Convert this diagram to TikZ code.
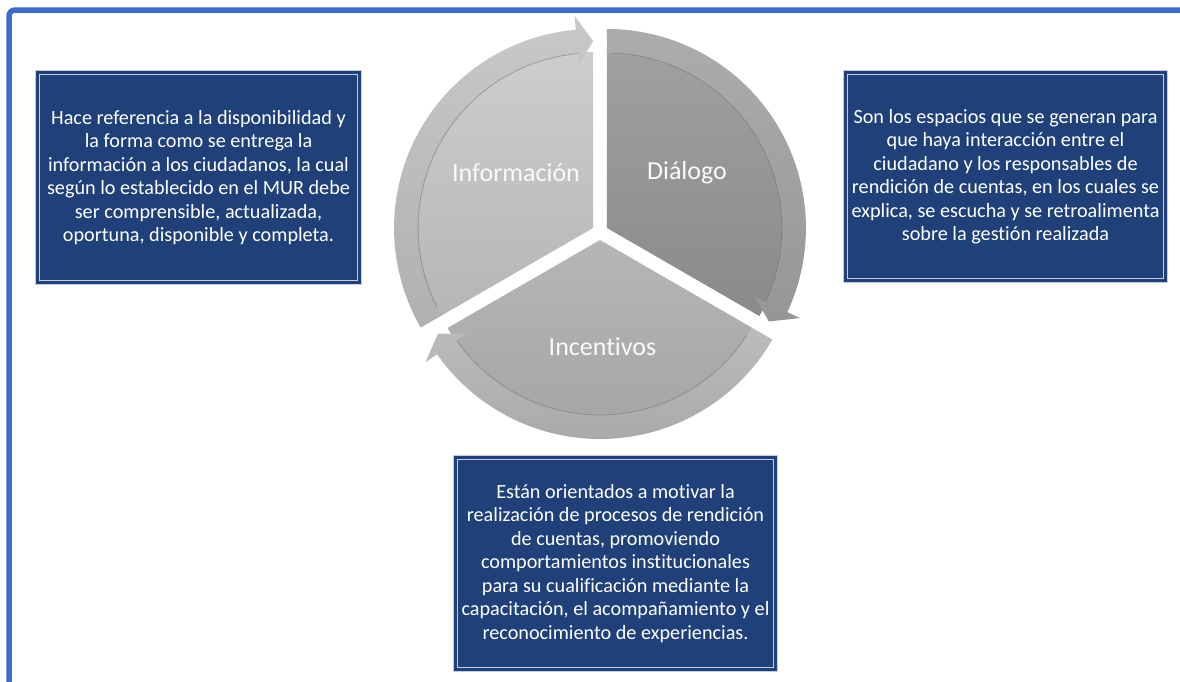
\documentclass[tikz,border=0pt]{standalone}
\usepackage{fontspec}
\setmainfont{Carlito}[Ligatures=NoCommon]
\definecolor{frameblue}{RGB}{58,108,208}
\definecolor{navy}{RGB}{32,64,122}
\definecolor{boxline}{RGB}{196,205,222}
\definecolor{shadowline}{RGB}{110,110,110}
\begin{document}
\begin{tikzpicture}[x=1pt,y=1pt,
  descbox/.style={fill=navy, draw=boxline, line width=1pt, double=navy, double distance=3pt,
    rectangle, inner sep=0pt, text=white, align=center,
    font=\fontsize{20.2}{23.5}\selectfont},
  seglabel/.style={text=white!96!gray, font=\fontsize{26}{30}\selectfont},
  bandedge/.style={draw=shadowline, line width=0.8pt, opacity=0.5},
]
\useasboundingbox (0,0) rectangle (1180,-681);
\fill[white] (0,0) rectangle (1180,-681);
\begin{scope}
  \clip (0,0) rectangle (1180,-681);
  \draw[frameblue, line width=5.5pt, rounded corners=6pt] (9,-720) -- (9,-10) -- (1220,-10);
\end{scope}

% ---- Informacion segment ----
\begin{scope}[shift={(593.07,-228)}]
  \path[shade, top color={rgb,255:red,205;green,205;blue,205}, bottom color={rgb,255:red,182;green,182;blue,182}]
    (0,0) -- (210:176) arc[start angle=210, end angle=90, radius=176] -- cycle;
  \path[shade, top color={rgb,255:red,200;green,200;blue,200}, bottom color={rgb,255:red,176;green,176;blue,176}]
    (210:199) arc[start angle=210, end angle=95, radius=199] -- (95:213) -- (90:187) -- (95:163)
    -- (95:175) arc[start angle=95, end angle=210, radius=175] -- cycle;
  \draw[bandedge] (207:175) arc[start angle=207, end angle=95, radius=175];
\end{scope}

% ---- Dialogo segment ----
\begin{scope}[shift={(606.93,-228)}]
  \path[shade, top color={rgb,255:red,160;green,160;blue,160}, bottom color={rgb,255:red,138;green,138;blue,138}]
    (0,0) -- (90:176) arc[start angle=90, end angle=-30, radius=176] -- cycle;
  \path[shade, top color={rgb,255:red,172;green,172;blue,172}, bottom color={rgb,255:red,150;green,150;blue,150}]
    (90:199) arc[start angle=90, end angle=-25, radius=199] -- (-25:213) -- (-30:187) -- (-25:163)
    -- (-25:175) arc[start angle=-25, end angle=90, radius=175] -- cycle;
  \draw[bandedge] (88:175) arc[start angle=88, end angle=-25, radius=175];
\end{scope}

% ---- Incentivos segment ----
\begin{scope}[shift={(600,-240)}]
  \path[shade, top color={rgb,255:red,182;green,182;blue,182}, bottom color={rgb,255:red,164;green,164;blue,164}]
    (0,0) -- (-30:176) arc[start angle=-30, end angle=-150, radius=176] -- cycle;
  \path[shade, top color={rgb,255:red,188;green,188;blue,188}, bottom color={rgb,255:red,170;green,170;blue,170}]
    (-30:199) arc[start angle=-30, end angle=-145, radius=199] -- (-145:213) -- (-150:187) -- (-145:163)
    -- (-145:175) arc[start angle=-145, end angle=-30, radius=175] -- cycle;
  \draw[bandedge] (-33:175) arc[start angle=-33, end angle=-145, radius=175];
\end{scope}

\node[seglabel] (info) at (516,-173) {Información};
\node[seglabel] (dialogo) at (687,-173) {Diálogo};
\node[seglabel] (incentivos) at (602.5,-347) {Incentivos};

\node[descbox, minimum width=322pt, minimum height=210pt] (lbox) at (198.5,-177.5)
  {Hace referencia a la disponibilidad y\\
   la forma como se entrega la\\
   información a los ciudadanos, la cual\\
   según lo establecido en el MUR debe\\
   ser comprensible, actualizada,\\
   oportuna, disponible y completa.};
\node[descbox, minimum width=320pt, minimum height=208pt] (rbox) at (1005.5,-176.5)
  {Son los espacios que se generan para\\
   que haya interacción entre el\\
   ciudadano y los responsables de\\
   rendición de cuentas, en los cuales se\\
   explica, se escucha y se retroalimenta\\
   sobre la gestión realizada};
\node[descbox, minimum width=320pt, minimum height=212pt] (bbox) at (615.5,-563.5)
  {Están orientados a motivar la\\
   realización de procesos de rendición\\
   de cuentas, promoviendo\\
   comportamientos institucionales\\
   para su cualificación mediante la\\
   capacitación, el acompañamiento y el\\
   reconocimiento de experiencias.};
\end{tikzpicture}
\end{document}
